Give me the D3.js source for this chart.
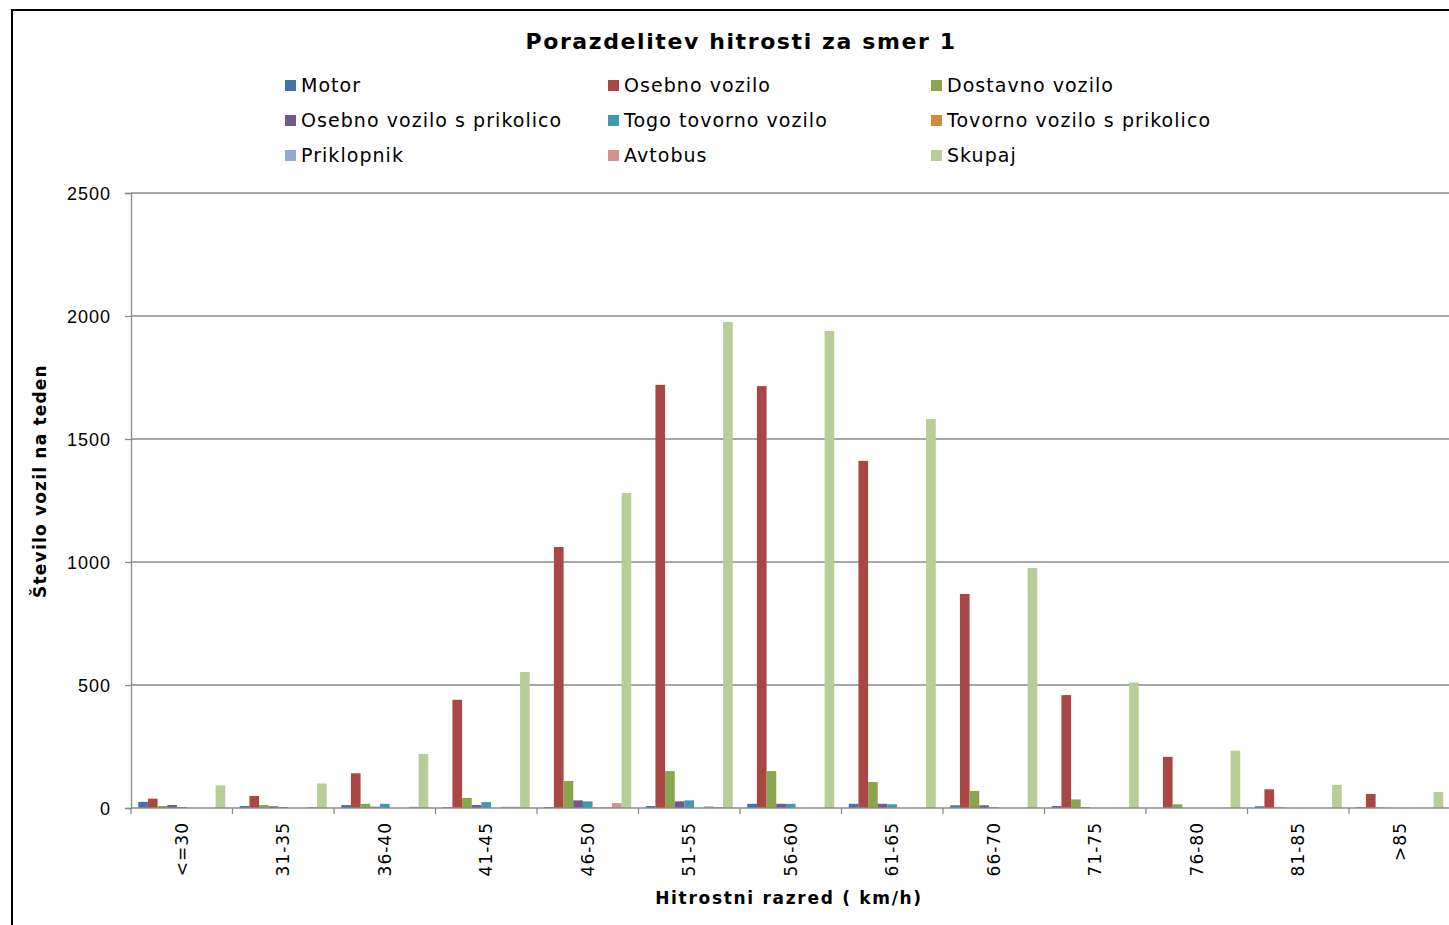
<!DOCTYPE html>
<html>
<head>
<meta charset="utf-8">
<script src="https://cdn.jsdelivr.net/npm/d3@7"></script>
<style>
  body { margin: 0; background: #fff; }
  svg { display: block; font-family: 'DejaVu Sans', Verdana, sans-serif; }
</style>
</head>
<body>
<div id="chart"></div>
<script>
const categories = ['<=30', '31-35', '36-40', '41-45', '46-50', '51-55', '56-60', '61-65', '66-70', '71-75', '76-80', '81-85', '>85'];

const seriesNames = ['Motor', 'Osebno vozilo', 'Dostavno vozilo', 'Osebno vozilo s prikolico', 'Togo tovorno vozilo', 'Tovorno vozilo s prikolico', 'Priklopnik', 'Avtobus', 'Skupaj'];

const motor       = [25, 8, 12, 3, 4, 8, 17, 17, 11, 8, 0, 7, 3];
const osebno      = [38, 49, 141, 440, 1061, 1720, 1715, 1411, 870, 459, 208, 76, 57];
const dostavno    = [8, 12, 17, 41, 110, 150, 150, 106, 69, 35, 15, 3, 2];
const osebnoPrik  = [12, 7, 5, 12, 31, 27, 17, 17, 11, 3, 0, 0, 0];
const togo        = [4, 4, 17, 24, 27, 31, 17, 15, 3, 0, 0, 0, 0];
const tovornoPrik = [0, 0, 0, 0, 3, 0, 0, 0, 0, 0, 0, 0, 0];
const priklopnik  = [0, 0, 0, 5, 3, 7, 0, 0, 0, 0, 0, 0, 0];
const avtobus     = [0, 4, 5, 5, 20, 4, 0, 0, 0, 0, 0, 0, 0];
const skupaj      = [92, 100, 220, 553, 1280, 1976, 1939, 1581, 976, 510, 233, 94, 65];

const yTicks = [0, 500, 1000, 1500, 2000, 2500];

const colors = ['#4572A7', '#AA4643', '#89A54E', '#71588F', '#4198AF', '#DB843D', '#93A9CF', '#D19392', '#B9CD96'];

const seriesValues = [motor, osebno, dostavno, osebnoPrik, togo, tovornoPrik, priklopnik, avtobus, skupaj];

const width = 1449, height = 925;
const margin = {left: 131, top: 193, right: 1450.5, bottom: 808};

const svg = d3.select('#chart').append('svg')
  .attr('width', width)
  .attr('height', height);

// outer frame
svg.append('rect')
  .attr('x', 12).attr('y', 10)
  .attr('width', 1480).attr('height', 940)
  .attr('fill', 'none')
  .attr('stroke', '#000')
  .attr('stroke-width', 2);

let x0 = d3.scaleBand()
  .domain(categories)
  .range([margin.left, margin.right])
  .paddingInner(0)
  .paddingOuter(0);

let x1 = d3.scaleBand()
  .domain(seriesNames)
  .range([0, x0.bandwidth()])
  .paddingOuter(0.75)
  .paddingInner(0);

let y = d3.scaleLinear()
  .domain([0, 2500])
  .range([margin.bottom, margin.top]);

// gridlines
svg.append('g')
  .selectAll('line')
  .data(yTicks.filter(d => d > 0))
  .enter().append('line')
  .attr('x1', margin.left).attr('x2', width)
  .attr('y1', d => y(d)).attr('y2', d => y(d))
  .attr('stroke', '#8a8a8a')
  .attr('stroke-width', 1.3);

// bars
let groups = svg.append('g')
  .selectAll('g')
  .data(seriesNames)
  .enter().append('g')
  .attr('fill', (d, i) => colors[i]);

groups.selectAll('rect')
  .data((name, i) => seriesValues[i].map((v, j) => ({name, v, cat: categories[j]})))
  .enter().append('rect')
  .attr('x', d => x0(d.cat) + x1(d.name))
  .attr('width', x1.bandwidth())
  .attr('y', d => y(d.v))
  .attr('height', d => y(0) - y(d.v));

// y axis
let yAxis = svg.append('g')
  .attr('transform', 'translate(' + margin.left + ',0)')
  .call(d3.axisLeft(y).tickValues(yTicks).tickFormat(d3.format('d')).tickSize(6).tickPadding(14));
yAxis.select('.domain').attr('stroke', '#8a8a8a').attr('stroke-width', 1.3);
yAxis.selectAll('.tick line').attr('stroke', '#8a8a8a').attr('stroke-width', 1.3);
yAxis.selectAll('.tick text')
  .style('font-size', '18px').style('letter-spacing', '1px')
  .attr('fill', '#000').attr('dy', '0.35em');

// x axis
let xAxisG = svg.append('g');
xAxisG.append('line')
  .attr('x1', margin.left).attr('x2', width)
  .attr('y1', y(0)).attr('y2', y(0))
  .attr('stroke', '#8a8a8a').attr('stroke-width', 1.3);
xAxisG.selectAll('.xtick')
  .data(categories)
  .enter().append('line')
  .attr('x1', d => x0(d)).attr('x2', d => x0(d))
  .attr('y1', y(0)).attr('y2', y(0) + 6)
  .attr('stroke', '#8a8a8a').attr('stroke-width', 1.3);
xAxisG.selectAll('text')
  .data(categories)
  .enter().append('text')
  .attr('transform', d => 'translate(' + (x0(d) + x0.bandwidth() / 2 + 6) + ',' + (y(0) + 14) + ')rotate(-90)')
  .attr('text-anchor', 'end')
  .style('font-size', '17px').style('letter-spacing', '1px')
  .text(d => d);

// titles
svg.append('text')
  .attr('x', 741).attr('y', 49)
  .attr('text-anchor', 'middle')
  .style('font-size', '22px').style('font-weight', 'bold').style('letter-spacing', '1.6px')
  .text('Porazdelitev hitrosti za smer 1');

svg.append('text')
  .attr('transform', 'translate(46,481)rotate(-90)')
  .attr('text-anchor', 'middle')
  .style('font-size', '17px').style('font-weight', 'bold').style('letter-spacing', '1.2px')
  .text('Število vozil na teden');

svg.append('text')
  .attr('x', 789).attr('y', 904)
  .attr('text-anchor', 'middle')
  .style('font-size', '17px').style('font-weight', 'bold').style('letter-spacing', '1.7px')
  .text('Hitrostni razred ( km/h)');

// legend
let legend = svg.append('g')
  .selectAll('g')
  .data(seriesNames)
  .enter().append('g')
  .attr('transform', (d, i) => 'translate(' + (285 + (i % 3) * 323) + ',' + (85 + Math.floor(i / 3) * 35) + ')');

legend.append('rect')
  .attr('x', 0).attr('y', -5)
  .attr('width', 11).attr('height', 11)
  .attr('fill', (d, i) => colors[i]);

legend.append('text')
  .attr('x', 16).attr('y', 0)
  .attr('dy', '0.35em')
  .style('font-size', '19px').style('letter-spacing', '1.05px')
  .text(d => d);
</script>
</body>
</html>
